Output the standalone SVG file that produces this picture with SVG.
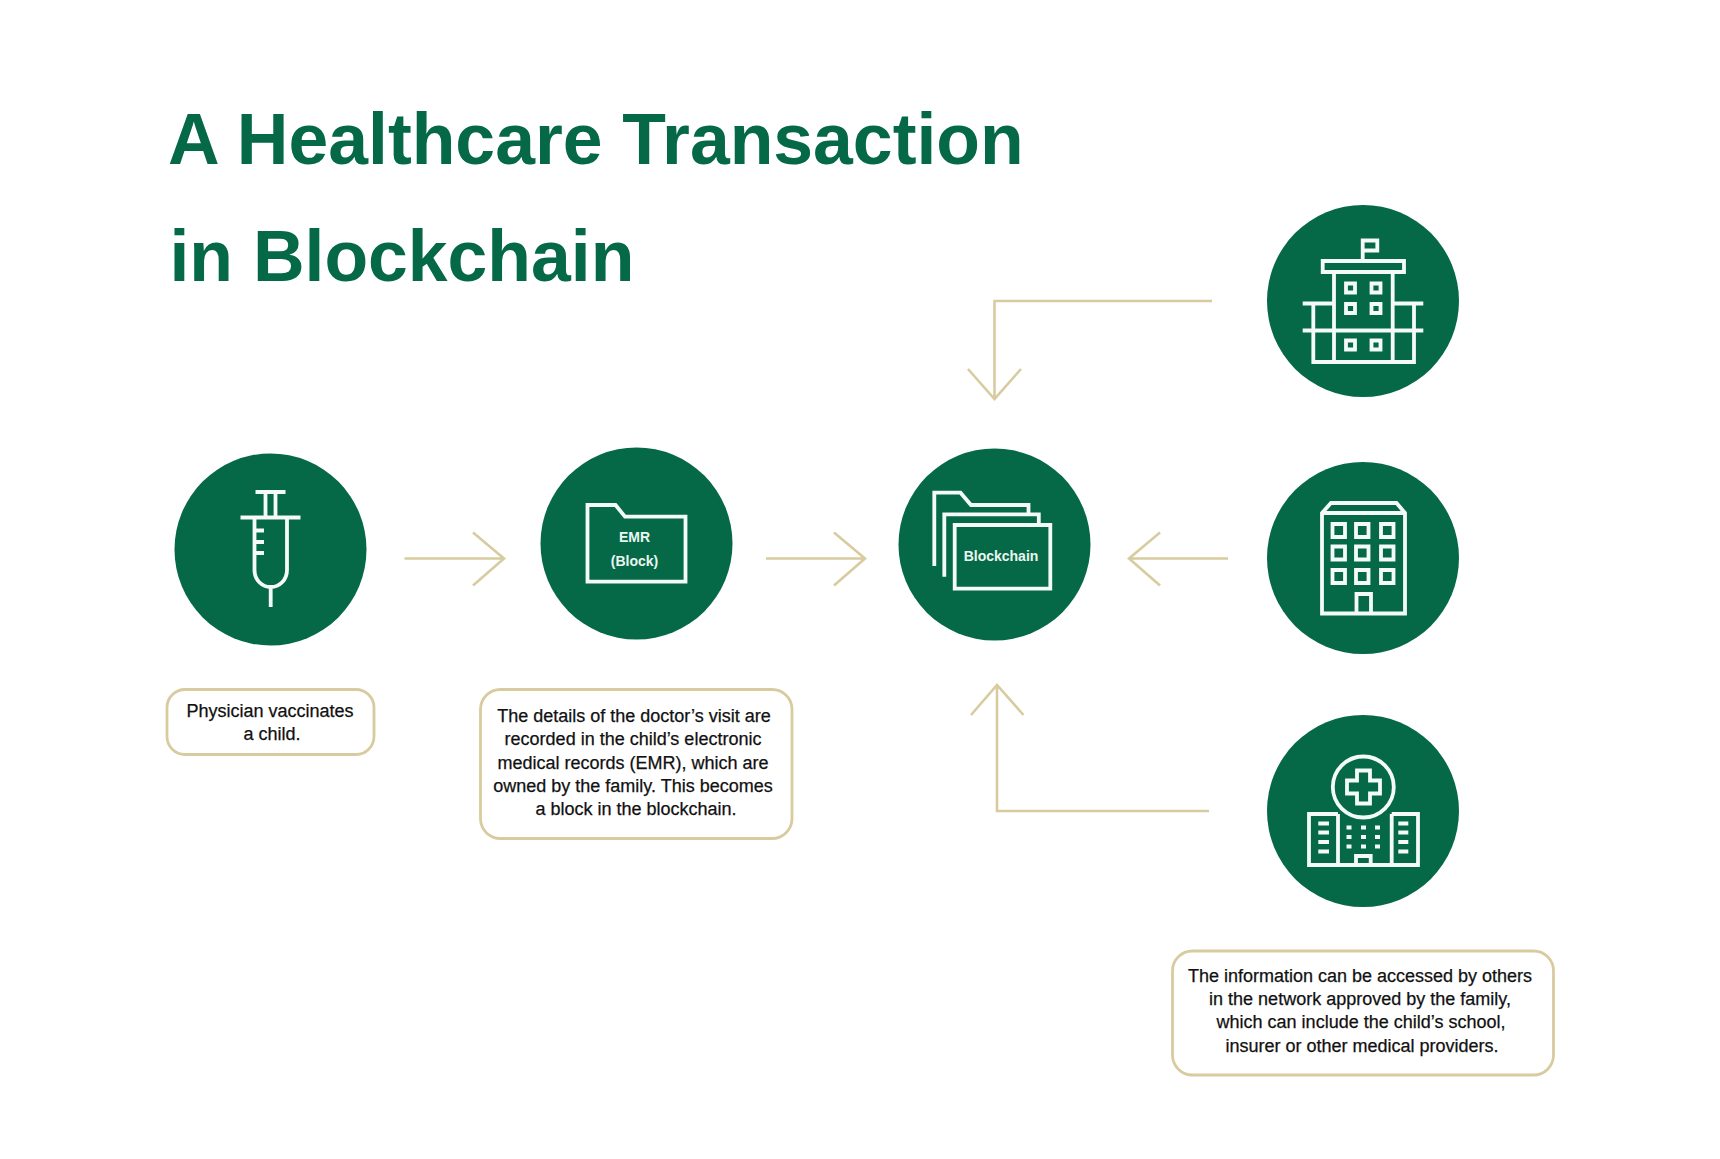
<svg xmlns="http://www.w3.org/2000/svg" width="1720" height="1159" viewBox="0 0 1720 1159">
<style>
.disc{fill:#056948}
.ic{fill:none;stroke:#f4faf7;stroke-width:3.800}
.dot{fill:#f4faf7}
.conn{fill:none;stroke:#d8cb9f;stroke-width:2.600}
.box{fill:#fff;stroke:#d8cb9f;stroke-width:2.800}
.title{font:bold 71.500px "Liberation Sans",Arial,sans-serif;fill:#056948}
.cap{font:18px "Liberation Sans",Arial,sans-serif;fill:#111;stroke:#111;stroke-width:.25;text-anchor:middle}
.lab{font:bold 14px "Liberation Sans",Arial,sans-serif;fill:#eaf6f0;text-anchor:middle}
</style>
<rect width="1720" height="1159" fill="#fff"/>
<g id="title">
<text class="title" x="168" y="163.500">A Healthcare Transaction</text>
<text class="title" x="169.500" y="280.500">in Blockchain</text>
</g>
<g id="connectors">
<path class="conn" d="M404.500 558.500H503.500M473 532.500L504 558.500L473 585.500"/>
<path class="conn" d="M766 558.500H864.500M834 532.500L865 558.500L834 585.500"/>
<path class="conn" d="M1228 558.500H1130M1160 532.500L1129 558.500L1160 585.500"/>
<path class="conn" d="M1212 301H994.500V399M968 369L994.500 399L1021 369"/>
<path class="conn" d="M1209 811H997V685M971 715L997 685L1023.500 715"/>
</g>
<g id="syringe">
<circle class="disc" cx="270.500" cy="549.500" r="96"/>
<path class="ic" d="M255.500 492H285.500M265.500 492V517M275.500 492V517M240.500 517.500H300.500M254.500 517.500V570C254.500 580 262 587 270.700 587C279.500 587 287 580 287 570V517.500M270.700 587V607M254.500 530.500H264M254.500 542H264M254.500 553H264"/>
</g>
<g id="emr">
<circle class="disc" cx="636.500" cy="543.500" r="96"/>
<path class="ic" d="M587.500 505H615.500L625 516.700H685.500V581.700H587.500Z"/>
<text class="lab" x="634.500" y="541.500">EMR</text>
<text class="lab" x="634.500" y="565.500">(Block)</text>
</g>
<g id="blockchain">
<circle class="disc" cx="994.500" cy="544.500" r="96"/>
<path class="ic" d="M954.700 525H1050.300V588.700H954.700ZM944.300 576.700V514.300H1038.800V525M934.300 566V492.700H960.500L971 505H1028.500V514.300"/>
<text class="lab" x="1001" y="560.500">Blockchain</text>
</g>
<g id="school">
<circle class="disc" cx="1363" cy="301" r="96"/>
<path class="ic" d="M1362.700 260V240.500H1377.300V250.500H1362.700M1322.700 261H1404V272H1322.700ZM1334 272V362M1392.700 272V362M1302.700 303.500H1334M1392.700 303.500H1423.300M1302.700 330.500H1423.300M1313.300 303.500V362H1414V303.500"/>
<path class="ic" d="M1346 283.500h9v9h-9zM1371.500 283.500h9v9h-9zM1346 304h9v9h-9zM1371.500 304h9v9h-9zM1346 340.500h9v9h-9zM1371.500 340.500h9v9h-9z"/>
</g>
<g id="office">
<circle class="disc" cx="1363" cy="558" r="96"/>
<path class="ic" d="M1322 613.500V513L1331 503H1396.500L1405 513V613.500ZM1322 513H1405M1356.500 613.500V594H1371V613.500"/>
<path class="ic" d="M1332.500 524h12.500v13h-12.500zM1356 524h12.500v13h-12.500zM1381 524h12.500v13h-12.500zM1332.500 546.500h12.500v13h-12.500zM1356 546.500h12.500v13h-12.500zM1381 546.500h12.500v13h-12.500zM1332.500 570h12.500v13h-12.500zM1356 570h12.500v13h-12.500zM1381 570h12.500v13h-12.500z"/>
</g>
<g id="hospital">
<circle class="disc" cx="1363" cy="811" r="96"/>
<circle class="ic" cx="1363.300" cy="787" r="30.500"/>
<path class="ic" d="M1357 770.500H1370V780.500H1380V793.500H1370V803.500H1357V793.500H1347V780.500H1357Z"/>
<path class="ic" d="M1338 814H1309V865H1418V814H1391.700M1338 814V865M1391.700 814V865M1356 865V856H1370.700V865"/>
<path class="ic" d="M1318.300 823.500H1329M1318.300 832.500H1329M1318.300 842H1329M1318.300 851.500H1329M1398.300 823.500H1408.300M1398.300 832.500H1408.300M1398.300 842H1408.300M1398.300 851.500H1408.300"/>
<path class="dot" d="M1346.500 825.500h5v4h-5zM1361 825.500h5v4h-5zM1375 825.500h5v4h-5zM1346.500 835h5v4h-5zM1361 835h5v4h-5zM1375 835h5v4h-5zM1346.500 844.500h5v4h-5zM1361 844.500h5v4h-5zM1375 844.500h5v4h-5z"/>
</g>
<g id="caption-physician">
<rect class="box" x="167" y="689.500" width="207" height="65" rx="18"/>
<text class="cap" x="270" y="716.500">Physician vaccinates</text>
<text class="cap" x="272" y="739.500">a child.</text>
</g>
<g id="caption-emr">
<rect class="box" x="480.500" y="689.500" width="311.500" height="149" rx="20"/>
<text class="cap" x="634" y="722">The details of the doctor’s visit are</text>
<text class="cap" x="633" y="745">recorded in the child’s electronic</text>
<text class="cap" x="633" y="768.500">medical records (EMR), which are</text>
<text class="cap" x="633" y="791.500">owned by the family. This becomes</text>
<text class="cap" x="636" y="814.500">a block in the blockchain.</text>
</g>
<g id="caption-network">
<rect class="box" x="1172.500" y="951" width="381" height="124" rx="20"/>
<text class="cap" x="1360" y="982">The information can be accessed by others</text>
<text class="cap" x="1360" y="1005">in the network approved by the family,</text>
<text class="cap" x="1361" y="1028">which can include the child’s school,</text>
<text class="cap" x="1362" y="1051.500">insurer or other medical providers.</text>
</g>
</svg>
